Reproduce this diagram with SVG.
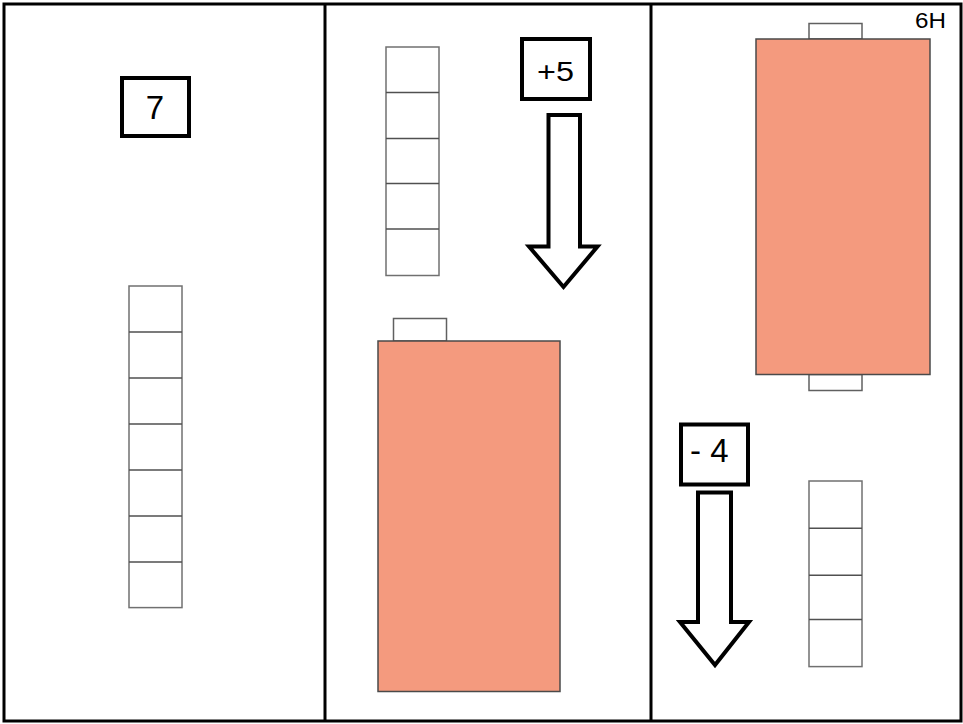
<svg xmlns="http://www.w3.org/2000/svg" width="963" height="724" viewBox="0 0 963 724">
<style>
.frame{fill:none;stroke:#000;stroke-width:3}
.lbl{fill:#fff;stroke:#000;stroke-width:4}
.cell{fill:#fff;stroke:#707070;stroke-width:1.5}
.grid{stroke:#505050;stroke-width:1.5}
.slab{fill:#F49A7E;stroke:#4a4a4a;stroke-width:1.5}
.tab{fill:#fff;stroke:#606060;stroke-width:1.5}
.arrow{fill:#fff;stroke:#000;stroke-width:4;stroke-linejoin:miter}
text{font-family:"Liberation Sans",Arial,sans-serif;fill:#000}
</style>
<rect width="963" height="724" fill="#fff"/>
<g id="frame">
<rect class="frame" x="4" y="4" width="957" height="717"/>
<line class="frame" x1="325" y1="4" x2="325" y2="721"/>
<line class="frame" x1="651" y1="4" x2="651" y2="721"/>
</g>
<g id="label-7">
<rect class="lbl" x="122" y="78" width="67" height="58"/>
<text x="155" y="119" font-size="33" text-anchor="middle">7</text>
</g>
<g id="column-7">
<rect class="cell" x="129" y="286" width="53" height="321.6"/>
<path class="grid" d="M129 332H182M129 378H182M129 424H182M129 470H182M129 516H182M129 562H182"/>
</g>
<g id="column-5">
<rect class="cell" x="386" y="47" width="53" height="228.5"/>
<path class="grid" d="M386 92.5H439M386 138.5H439M386 183.5H439M386 229H439"/>
</g>
<g id="label-plus5">
<rect class="lbl" x="522" y="39" width="68" height="60"/>
<text transform="translate(555.5 80.7) scale(1.2 1)" font-size="27" text-anchor="middle">+5</text>
</g>
<g id="slab-mid">
<rect class="tab" x="393.5" y="318.5" width="53" height="22.5"/>
<rect class="slab" x="378" y="341" width="182" height="350.5"/>
</g>
<g id="slab-right">
<rect class="tab" x="809" y="23.5" width="53" height="15.5"/>
<rect class="tab" x="809" y="374.5" width="53" height="16"/>
<rect class="slab" x="756" y="39" width="174" height="335.5"/>
</g>
<g id="label-6H">
<text transform="translate(915 28.3) scale(1.1 1)" font-size="22">6H</text>
</g>
<g id="label-minus4">
<rect class="lbl" x="681" y="424.5" width="67" height="60"/>
<text x="690" y="462.3" font-size="33">- 4</text>
</g>
<g id="column-4">
<rect class="cell" x="809" y="481" width="53" height="185.6"/>
<path class="grid" d="M809 528.3H862M809 575.3H862M809 619.5H862"/>
</g>
<g id="connectors">
<polygon class="arrow" points="548.5,115 580,115 580,246.5 597.5,246.5 563.5,287 529,246.5 548.5,246.5"/>
<polygon class="arrow" points="698,492.5 731,492.5 731,622 749,622 715,665 680,622 698,622"/>
</g>
</svg>
